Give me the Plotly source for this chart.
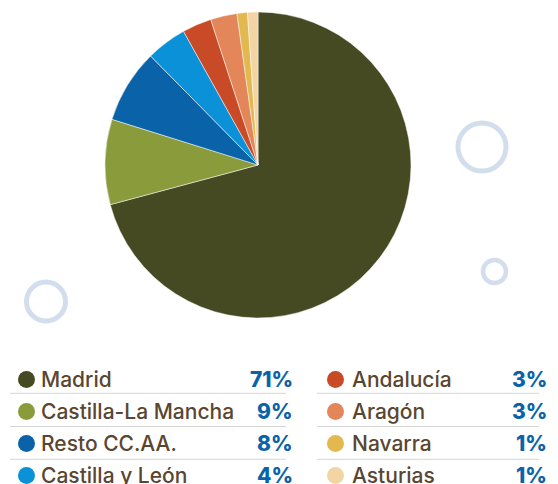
import plotly.graph_objects as go

# Data
regions = ["Madrid", "Castilla-La Mancha", "Resto CC.AA.", "Castilla y León",
           "Andalucía", "Aragón", "Navarra", "Asturias"]
shares = [70.9, 9.0, 7.8, 4.3, 3.1, 2.8, 1.1, 1.1]
colors = ["#454a22", "#8a9b3c", "#0a63a8", "#0a91d8",
          "#c84a27", "#e3865a", "#e3b94f", "#f3d5a5"]

PW, PH = 558, 484  # page size
OFF = 8  # page body margin
W, H = PW - OFF, PH - OFF

fig = go.Figure()

# pie: centre (258,165), radius ~153 px in page pixels
fig.add_trace(go.Pie(
    labels=regions, values=shares, sort=False, direction="clockwise", rotation=0,
    marker=dict(colors=colors, line=dict(color="white", width=0.5)),
    textinfo="none", showlegend=False,
    domain=dict(x=[(105 - OFF) / W, (411 - OFF) / W],
                y=[1 - (318 - OFF) / H, 1 - (12 - OFF) / H]),
))

# decorative rings
for cx, cy, r, w in [(482, 147, 24, 5), (494.5, 271.5, 11.5, 4.5), (46, 301.5, 19.5, 5)]:
    fig.add_shape(type="circle", xref="x", yref="y", x0=cx - r, x1=cx + r, y0=cy - r, y1=cy + r,
                  line=dict(color="#d3deed", width=w), layer="below")

# custom legend (right edge of the visible page sits near x=550)
row_y = [379.5, 411.5, 443.5, 475.5]
col = [dict(dot=26.5, txt=39, pct=295, l0=10, l1=286),
       dict(dot=335.5, txt=350, pct=549, l0=317, l1=539)]

dot_x, dot_y = [], []
for i, (name, val) in enumerate(zip(regions, shares)):
    c = col[i // 4]
    y = row_y[i % 4]
    dot_x.append(c["dot"])
    dot_y.append(y)
    fig.add_annotation(x=c["txt"], y=y, text=name, showarrow=False, xanchor="left", yanchor="middle",
                       font=dict(family="Inter", size=21, weight=500, color="#5a4630"))
    fig.add_annotation(x=c["pct"], y=y, text="%d%%" % round(val), showarrow=False,
                       xanchor="right", yanchor="middle",
                       font=dict(family="Inter", size=21, weight=800, color="#0a63a8"))

fig.add_trace(go.Scatter(x=dot_x, y=dot_y, mode="markers", showlegend=False, hoverinfo="skip",
                         cliponaxis=False,
                         marker=dict(size=17, color=colors, line=dict(width=0))))

for c in col:
    for y in [393.3, 426.5, 459.3]:
        fig.add_shape(type="line", xref="x", yref="y", x0=c["l0"], x1=c["l1"], y0=y, y1=y,
                      line=dict(color="#d6d6d6", width=1))

fig.update_layout(
    width=W, height=H, margin=dict(l=0, r=0, t=0, b=0),
    paper_bgcolor="white", plot_bgcolor="rgba(0,0,0,0)",
    xaxis=dict(range=[OFF, PW], visible=False, fixedrange=True),
    yaxis=dict(range=[PH, OFF], visible=False, fixedrange=True),
)

fig.write_html("out.html")
